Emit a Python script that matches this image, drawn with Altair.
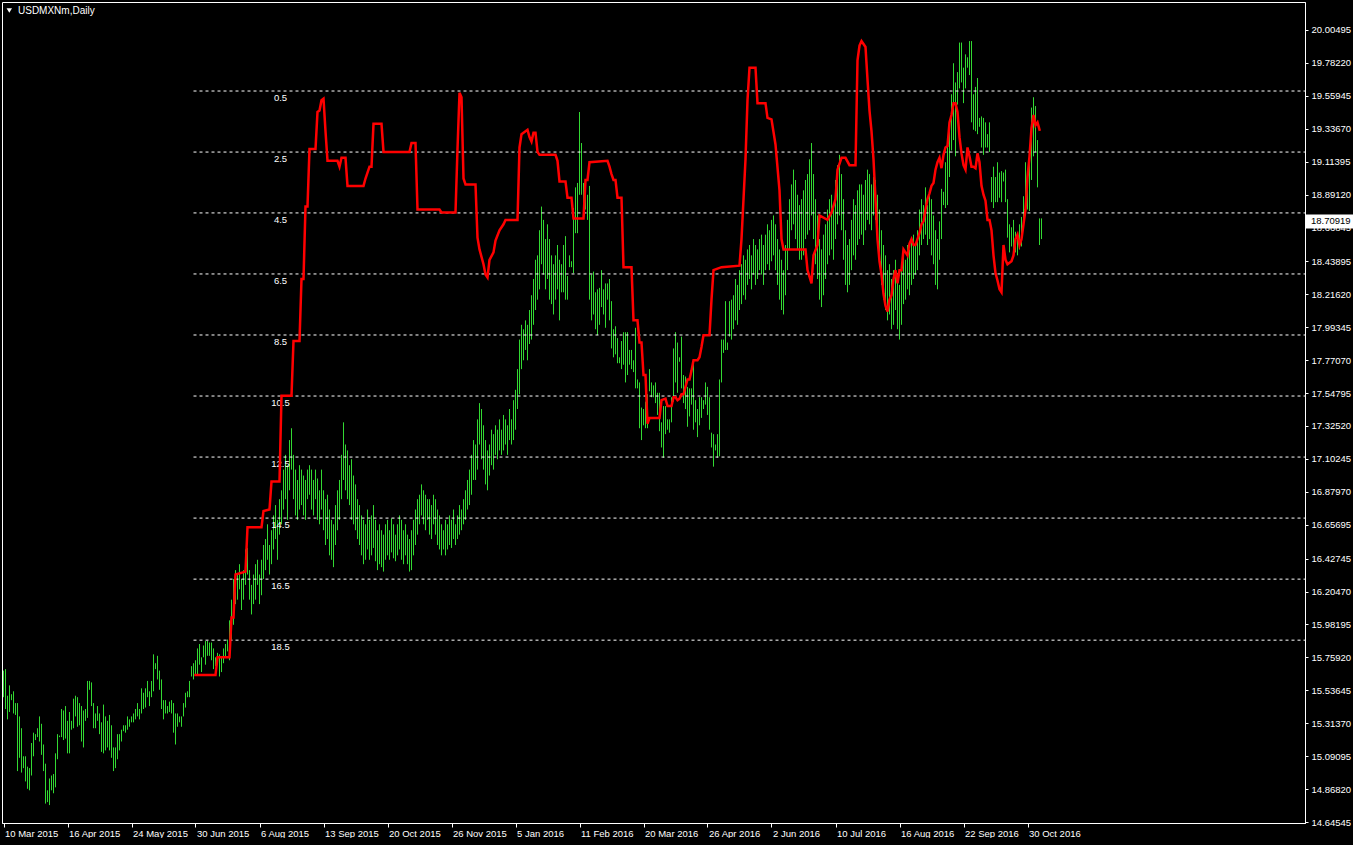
import json
import jinja2
import altair as alt
import pandas as pd

symbol_title = "USDMXNm,Daily"

# ---- daily bar highs / lows, one per bar ----
high = [
    15.67, 15.68, 15.50, 15.57, 15.51, 15.53, 15.45, 15.45, 15.36, 15.28,
    15.09, 15.09, 15.02, 15.01, 15.18, 15.25, 15.24, 15.28, 15.36, 15.31,
    15.17, 15.04, 14.86, 14.94, 14.96, 14.97, 15.11, 15.24, 15.23, 15.41,
    15.40, 15.43, 15.33, 15.39, 15.33, 15.48, 15.50, 15.49, 15.45, 15.43,
    15.40, 15.41, 15.60, 15.60, 15.59, 15.45, 15.38, 15.43, 15.38, 15.32,
    15.44, 15.36, 15.33, 15.37, 15.30, 15.15, 15.15, 15.24, 15.24, 15.27,
    15.30, 15.30, 15.36, 15.34, 15.36, 15.38, 15.41, 15.45, 15.41, 15.55,
    15.52, 15.55, 15.60, 15.53, 15.60, 15.78, 15.72, 15.77, 15.67, 15.61,
    15.47, 15.47, 15.43, 15.46, 15.47, 15.45, 15.38, 15.38, 15.36, 15.36,
    15.45, 15.52, 15.53, 15.60, 15.70, 15.72, 15.74, 15.82, 15.85, 15.76,
    15.84, 15.87, 15.87, 15.86, 15.86, 15.82, 15.76, 15.79, 15.78, 15.76,
    15.82, 15.85, 15.88, 16.01, 16.15, 16.29, 16.35, 16.32, 16.39, 16.29,
    16.35, 16.49, 16.50, 16.35, 16.25, 16.32, 16.39, 16.42, 16.32, 16.42,
    16.52, 16.56, 16.66, 16.52, 16.62, 16.72, 16.79, 16.69, 16.83, 16.89,
    17.03, 17.13, 17.06, 17.23, 17.31, 17.13, 17.03, 16.96, 17.06, 17.03,
    16.99, 16.96, 17.03, 17.06, 17.03, 16.96, 17.03, 16.97, 16.89, 17.03,
    16.89, 16.83, 16.86, 16.76, 16.69, 16.66, 16.79, 16.89, 16.96, 17.13,
    17.35, 17.20, 17.16, 17.06, 17.10, 16.99, 16.93, 16.83, 16.79, 16.72,
    16.69, 16.66, 16.76, 16.69, 16.72, 16.79, 16.69, 16.62, 16.66, 16.62,
    16.59, 16.66, 16.69, 16.62, 16.70, 16.66, 16.59, 16.66, 16.72, 16.69,
    16.62, 16.66, 16.59, 16.56, 16.62, 16.69, 16.76, 16.83, 16.86, 16.93,
    16.89, 16.86, 16.83, 16.83, 16.79, 16.86, 16.83, 16.76, 16.72, 16.66,
    16.62, 16.69, 16.66, 16.72, 16.69, 16.76, 16.66, 16.72, 16.79, 16.76,
    16.83, 16.89, 16.96, 17.03, 17.13, 17.23, 17.20, 17.37, 17.48, 17.44,
    17.33, 17.23, 17.16, 17.20, 17.30, 17.27, 17.33, 17.30, 17.37, 17.30,
    17.40, 17.37, 17.33, 17.44, 17.37, 17.50, 17.57, 17.71, 17.91, 18.01,
    17.98, 18.04, 18.01, 18.11, 18.21, 18.32, 18.45, 18.48, 18.65, 18.81,
    18.72, 18.59, 18.69, 18.59, 18.48, 18.42, 18.48, 18.55, 18.45, 18.42,
    18.55, 18.61, 18.34, 18.48, 18.44, 18.80, 18.94, 18.97, 19.45, 19.24,
    18.97, 18.90, 18.89, 18.95, 18.35, 18.37, 18.23, 18.25, 18.26, 18.38,
    18.25, 18.29, 18.29, 18.32, 18.17, 17.98, 18.00, 17.92, 17.79, 17.90,
    17.96, 17.96, 17.96, 17.84, 17.84, 17.77, 17.99, 17.64, 17.62, 17.45,
    17.44, 17.49, 17.54, 17.71, 17.62, 17.60, 17.62, 17.55, 17.55, 17.35,
    17.46, 17.46, 17.37, 17.37, 17.52, 17.85, 17.96, 17.89, 17.79, 17.93,
    17.67, 17.66, 17.59, 17.58, 17.58, 17.76, 17.50, 17.44, 17.52, 17.52,
    17.50, 17.62, 17.59, 17.52, 17.28, 17.27, 17.20, 17.27, 17.64, 17.91,
    17.91, 18.17, 17.89, 18.17, 18.18, 18.21, 18.32, 18.28, 18.38, 18.42,
    18.48, 18.45, 18.52, 18.55, 18.48, 18.59, 18.55, 18.52, 18.59, 18.62,
    18.55, 18.62, 18.69, 18.65, 18.72, 18.75, 18.69, 18.59, 18.52, 18.45,
    18.38, 18.55, 18.72, 18.86, 18.96, 19.06, 18.99, 18.89, 18.82, 18.86,
    18.92, 18.99, 19.03, 19.13, 19.24, 19.03, 18.86, 18.75, 18.59, 18.52,
    18.62, 18.69, 18.79, 18.86, 18.89, 18.82, 18.99, 19.09, 19.16, 19.03,
    18.86, 18.65, 18.55, 18.59, 18.72, 18.86, 18.82, 18.92, 18.96, 18.96,
    18.89, 18.99, 19.06, 19.03, 18.96, 19.01, 18.99, 18.89, 18.79, 18.65,
    18.55, 18.48, 18.38, 18.42, 18.32, 18.38, 18.45, 18.35, 18.28, 18.38,
    18.48, 18.45, 18.55, 18.52, 18.59, 18.62, 18.55, 18.65, 18.79, 18.86,
    18.82, 18.94, 18.82, 18.90, 18.86, 18.75, 18.65, 18.59, 18.71, 18.93,
    18.91, 19.11, 19.23, 19.40, 19.57, 19.78, 19.65, 19.72, 19.92, 19.92,
    19.75, 19.84, 19.82, 19.93, 19.93, 19.57, 19.62, 19.68, 19.41, 19.42,
    19.41, 19.38, 19.30, 19.38, 19.01, 19.08, 19.01, 19.11, 19.04, 19.05,
    19.04, 19.06, 18.86, 18.69, 18.67, 18.72, 18.64, 18.62, 18.69, 18.74,
    18.88, 19.11, 19.03, 19.15, 19.48, 19.55, 19.49, 19.26, 18.73, 18.73,
]
low = [
    15.49, 15.41, 15.34, 15.39, 15.47, 15.38, 15.37, 14.99, 15.08, 14.98,
    15.01, 14.92, 14.87, 14.86, 14.96, 15.09, 15.20, 15.22, 15.19, 15.10,
    14.99, 14.77, 14.78, 14.76, 14.86, 14.84, 14.88, 15.07, 15.22, 15.22,
    15.20, 15.21, 15.11, 15.11, 15.27, 15.28, 15.36, 15.29, 15.30, 15.19,
    15.15, 15.33, 15.35, 15.54, 15.43, 15.28, 15.28, 15.33, 15.24, 15.12,
    15.11, 15.13, 15.15, 15.13, 15.08, 14.99, 15.01, 15.07, 15.13, 15.19,
    15.26, 15.25, 15.27, 15.29, 15.32, 15.32, 15.34, 15.36, 15.34, 15.38,
    15.41, 15.42, 15.49, 15.43, 15.49, 15.53, 15.68, 15.61, 15.54, 15.41,
    15.34, 15.38, 15.38, 15.39, 15.38, 15.25, 15.17, 15.29, 15.32, 15.29,
    15.36, 15.42, 15.49, 15.49, 15.63, 15.61, 15.64, 15.64, 15.71, 15.66,
    15.76, 15.71, 15.77, 15.77, 15.74, 15.68, 15.70, 15.74, 15.63, 15.66,
    15.72, 15.76, 15.80, 15.74, 15.88, 15.98, 16.12, 16.15, 16.22, 16.08,
    16.15, 16.25, 16.32, 16.15, 16.05, 16.12, 16.15, 16.25, 16.12, 16.18,
    16.29, 16.35, 16.42, 16.32, 16.39, 16.49, 16.56, 16.42, 16.59, 16.66,
    16.76, 16.83, 16.69, 16.89, 17.03, 16.83, 16.72, 16.69, 16.76, 16.79,
    16.72, 16.69, 16.83, 16.86, 16.76, 16.72, 16.83, 16.69, 16.66, 16.76,
    16.62, 16.52, 16.56, 16.45, 16.42, 16.37, 16.52, 16.62, 16.69, 16.83,
    16.96, 16.89, 16.83, 16.79, 16.69, 16.66, 16.62, 16.56, 16.52, 16.45,
    16.39, 16.42, 16.49, 16.42, 16.45, 16.50, 16.41, 16.35, 16.39, 16.37,
    16.34, 16.42, 16.45, 16.42, 16.47, 16.43, 16.41, 16.45, 16.49, 16.42,
    16.39, 16.45, 16.39, 16.34, 16.35, 16.45, 16.52, 16.59, 16.66, 16.72,
    16.66, 16.62, 16.69, 16.59, 16.56, 16.66, 16.59, 16.52, 16.49, 16.45,
    16.49, 16.45, 16.49, 16.52, 16.50, 16.56, 16.52, 16.56, 16.59, 16.62,
    16.66, 16.69, 16.76, 16.79, 16.86, 16.96, 16.96, 17.03, 17.20, 17.10,
    17.03, 16.93, 16.89, 16.99, 17.06, 17.03, 17.13, 17.10, 17.16, 17.13,
    17.16, 17.20, 17.13, 17.23, 17.20, 17.23, 17.30, 17.44, 17.54, 17.71,
    17.77, 17.84, 17.77, 17.88, 17.91, 18.01, 18.11, 18.18, 18.25, 18.42,
    18.35, 18.25, 18.32, 18.18, 18.15, 18.08, 18.18, 18.25, 18.04, 18.23,
    18.23, 18.18, 18.18, 18.40, 18.40, 18.36, 18.63, 18.63, 18.89, 18.89,
    18.77, 18.79, 18.72, 18.18, 18.04, 18.08, 17.98, 17.94, 18.01, 18.13,
    18.08, 17.99, 18.18, 18.04, 17.85, 17.79, 17.81, 17.75, 17.75, 17.71,
    17.74, 17.62, 17.67, 17.74, 17.71, 17.69, 17.58, 17.58, 17.31, 17.23,
    17.33, 17.31, 17.31, 17.56, 17.52, 17.52, 17.48, 17.40, 17.29, 17.18,
    17.11, 17.27, 17.30, 17.28, 17.35, 17.49, 17.62, 17.55, 17.76, 17.58,
    17.48, 17.44, 17.32, 17.39, 17.47, 17.30, 17.35, 17.25, 17.33, 17.38,
    17.44, 17.47, 17.40, 17.30, 17.18, 17.05, 17.16, 17.11, 17.12, 17.62,
    17.82, 17.84, 17.84, 17.93, 17.91, 17.98, 18.04, 18.01, 18.11, 18.15,
    18.21, 18.18, 18.28, 18.32, 18.25, 18.35, 18.28, 18.32, 18.38, 18.35,
    18.28, 18.38, 18.42, 18.38, 18.44, 18.48, 18.38, 18.28, 18.18, 18.11,
    18.08, 18.21, 18.38, 18.52, 18.65, 18.69, 18.59, 18.52, 18.45, 18.45,
    18.48, 18.59, 18.62, 18.65, 18.75, 18.59, 18.42, 18.32, 18.18, 18.13,
    18.21, 18.32, 18.42, 18.48, 18.52, 18.45, 18.59, 18.69, 18.75, 18.65,
    18.45, 18.28, 18.23, 18.28, 18.38, 18.48, 18.45, 18.55, 18.59, 18.62,
    18.55, 18.65, 18.72, 18.69, 18.65, 18.75, 18.72, 18.55, 18.42, 18.28,
    18.18, 18.11, 18.04, 18.08, 17.98, 18.01, 18.11, 17.98, 17.91, 18.01,
    18.15, 18.18, 18.25, 18.21, 18.28, 18.32, 18.35, 18.38, 18.48, 18.55,
    18.59, 18.62, 18.55, 18.59, 18.48, 18.42, 18.28, 18.25, 18.45, 18.59,
    18.82, 18.80, 18.82, 19.01, 19.19, 19.26, 19.15, 19.50, 19.61, 19.65,
    19.51, 19.61, 19.75, 19.70, 19.38, 19.33, 19.32, 19.30, 19.35, 19.21,
    19.16, 19.21, 19.21, 19.18, 18.84, 18.80, 18.84, 18.84, 18.87, 18.84,
    18.98, 18.84, 18.60, 18.50, 18.54, 18.47, 18.50, 18.48, 18.52, 18.54,
    18.70, 18.77, 18.79, 18.78, 18.99, 19.15, 19.18, 18.94, 18.55, 18.59,
]

# ---- red indicator line: (bar index, price) vertices ----
red_points = [
    (96, 15.64), (106, 15.64), (107, 15.76), (113, 15.76), (114, 16.03), (115, 16.03),
    (116, 16.32), (121, 16.34), (122, 16.64), (129, 16.64), (130, 16.75), (133, 16.76),
    (134, 16.95), (138, 16.95), (139, 17.53), (144, 17.53), (145, 17.90), (148, 17.90),
    (149, 18.32), (150, 18.32), (151, 18.81), (152, 18.81), (153, 19.20), (156, 19.20),
    (157, 19.45), (158, 19.46), (159, 19.53), (160, 19.54), (161, 19.32), (162, 19.12),
    (167, 19.12), (168, 19.08), (169, 19.14), (171, 19.14), (172, 18.95), (180, 18.95),
    (181, 19.00), (182, 19.04), (183, 19.08), (184, 19.08), (185, 19.37), (189, 19.37),
    (190, 19.18), (203, 19.18), (204, 19.24), (206, 19.24), (207, 18.79), (218, 18.79),
    (219, 18.77), (226, 18.77), (227, 19.20), (228, 19.58), (229, 19.55), (230, 19.00),
    (231, 18.96), (236, 18.96), (237, 18.60), (238, 18.52), (240, 18.42), (241, 18.35),
    (242, 18.33), (243, 18.45), (245, 18.50), (246, 18.58), (248, 18.65), (250, 18.69),
    (251, 18.72), (257, 18.72), (258, 19.21), (259, 19.30), (260, 19.31), (262, 19.33),
    (263, 19.28), (264, 19.25), (265, 19.31), (266, 19.31), (267, 19.18), (268, 19.16),
    (276, 19.16), (277, 19.12), (278, 18.98), (281, 18.98), (282, 18.87), (284, 18.87),
    (285, 18.73), (290, 18.73), (291, 18.99), (292, 18.99), (293, 19.11), (302, 19.12),
    (303, 19.08), (304, 19.03), (305, 18.99), (306, 18.99), (307, 18.87), (309, 18.87),
    (310, 18.40), (314, 18.40), (315, 18.04), (317, 18.04), (318, 17.89), (319, 17.89),
    (320, 17.67), (321, 17.67), (322, 17.34), (323, 17.38), (328, 17.38), (329, 17.50),
    (331, 17.51), (332, 17.46), (334, 17.46), (335, 17.52), (336, 17.52), (337, 17.50),
    (338, 17.51), (339, 17.54), (340, 17.54), (341, 17.59), (342, 17.64), (343, 17.64),
    (344, 17.70), (345, 17.77), (347, 17.77), (348, 17.79), (349, 17.86), (350, 17.94),
    (353, 17.94), (354, 18.18), (355, 18.38), (359, 18.40), (368, 18.41), (369, 18.59),
    (370, 18.86), (371, 19.13), (372, 19.53), (373, 19.75), (376, 19.75), (377, 19.51),
    (381, 19.51), (382, 19.41), (384, 19.40), (386, 19.23), (388, 18.92), (389, 18.59),
    (390, 18.52), (401, 18.52), (402, 18.38), (404, 18.29), (405, 18.48), (407, 18.55),
    (408, 18.75), (412, 18.72), (414, 18.77), (416, 18.86), (417, 19.06), (419, 19.14),
    (421, 19.14), (423, 19.09), (426, 19.09), (427, 19.80), (428, 19.90), (429, 19.93),
    (430, 19.91), (431, 19.89), (432, 19.67), (433, 19.46), (434, 19.32), (435, 19.13),
    (436, 18.86), (437, 18.59), (438, 18.44), (439, 18.35), (440, 18.22), (441, 18.14),
    (442, 18.10), (443, 18.18), (444, 18.21), (445, 18.32), (446, 18.38), (447, 18.29),
    (448, 18.38), (449, 18.38), (450, 18.52), (451, 18.50), (452, 18.48), (453, 18.56),
    (454, 18.59), (455, 18.55), (456, 18.55), (457, 18.59), (458, 18.63), (459, 18.69),
    (460, 18.71), (461, 18.79), (462, 18.86), (463, 18.90), (464, 18.95), (465, 18.97),
    (466, 19.06), (467, 19.11), (468, 19.14), (469, 19.07), (470, 19.16), (471, 19.21),
    (472, 19.22), (473, 19.38), (474, 19.43), (475, 19.51), (476, 19.51), (477, 19.45),
    (478, 19.28), (479, 19.17), (480, 19.09), (481, 19.06), (482, 19.21), (483, 19.15),
    (484, 19.08), (485, 19.08), (486, 19.07), (487, 19.17), (488, 19.11), (489, 18.95),
    (490, 18.89), (491, 18.85), (492, 18.72), (493, 18.72), (494, 18.65), (495, 18.48),
    (496, 18.36), (497, 18.31), (498, 18.25), (499, 18.23), (500, 18.55), (501, 18.45),
    (502, 18.42), (503, 18.43), (504, 18.44), (505, 18.48), (506, 18.59), (507, 18.62),
    (508, 18.55), (509, 18.59), (510, 18.69), (511, 18.79), (512, 19.01), (513, 19.15),
    (514, 19.34), (515, 19.43), (516, 19.36), (517, 19.38), (518, 19.33),
]

# ---- dashed horizontal levels ----
level_price = [19.592, 19.179, 18.767, 18.354, 17.941, 17.528, 17.115, 16.702, 16.289, 15.876]
level_text = ["0.5", "2.5", "4.5", "6.5", "8.5", "10.5", "12.5", "14.5", "16.5", "18.5"]
level_start_bar = 95
level_label_bar = 138.5

# ---- axes ----
price_ticks = [20.00495, 19.78220, 19.55945, 19.33670, 19.11395, 18.89120, 18.66845,
               18.43895, 18.21620, 17.99345, 17.77070, 17.54795, 17.32520, 17.10245,
               16.87970, 16.65695, 16.42745, 16.20470, 15.98195, 15.75920, 15.53645,
               15.31370, 15.09095, 14.86820, 14.64545]
date_bar = [0, 32, 64, 96, 128, 160, 192, 224, 256, 288, 320, 352, 384, 416, 448, 480, 512]
date_text = ["10 Mar 2015", "16 Apr 2015", "24 May 2015", "30 Jun 2015", "6 Aug 2015",
             "13 Sep 2015", "20 Oct 2015", "26 Nov 2015", "5 Jan 2016", "11 Feb 2016",
             "20 Mar 2016", "26 Apr 2016", "2 Jun 2016", "10 Jul 2016", "16 Aug 2016",
             "22 Sep 2016", "30 Oct 2016"]
last_price = 18.70919
last_text = "18.70919"

# ---- styling ----
W, H = 1303, 821
FONT = "Liberation Sans"
FS = 9.5
GREEN = "#32D932"
RED = "#FF0000"
WHITE = "#FFFFFF"

X_SCALE = alt.Scale(domain=[-0.75, 650.75], nice=False, zero=False)
Y_SCALE = alt.Scale(domain=[14.6387, 20.1944], nice=False, zero=False)

x_axis = alt.Axis(
    values=date_bar,
    labelExpr=f"{json.dumps(date_text)}[round(datum.value / 32)]",
    orient="bottom", title=None, grid=False,
    labelAlign="left", labelBaseline="top", labelPadding=1, labelOffset=1,
    tickSize=4, labelFlush=False, labelOverlap=False,
)
y_axis = alt.Axis(
    values=price_ticks, format=".5f", orient="right", title=None, grid=False,
    tickSize=3, labelPadding=3, labelFlush=False, labelOverlap=False,
)


def X(field):
    return alt.X(f"{field}:Q", scale=X_SCALE, axis=x_axis, title=None)


def Y(field):
    return alt.Y(f"{field}:Q", scale=Y_SCALE, axis=y_axis, title=None)


bars_df = pd.DataFrame({"bar": list(range(len(high))), "high": high, "low": low})
red_df = pd.DataFrame({"bar": [p[0] for p in red_points], "price": [p[1] for p in red_points]})
lev_df = pd.DataFrame({
    "price": level_price, "label": level_text,
    "start": [level_start_bar] * len(level_price),
    "at": [level_label_bar] * len(level_price),
})
last_df = pd.DataFrame({"price": [last_price], "label": [last_text]})
title_df = pd.DataFrame({"t": [symbol_title]})

bars = alt.Chart(bars_df).mark_rule(color=GREEN, strokeWidth=1).encode(
    x=X("bar"), y=Y("high"), y2="low"
)

levels = alt.Chart(lev_df).mark_rule(color=WHITE, strokeWidth=1, strokeDash=[3, 3]).encode(
    x=X("start"), x2=alt.value(W), y=Y("price")
)

level_labels = alt.Chart(lev_df).mark_text(
    color=WHITE, font=FONT, fontSize=FS, align="center", baseline="middle", dy=7
).encode(x=X("at"), y=Y("price"), text="label:N")

red_line = alt.Chart(red_df).mark_line(
    color=RED, strokeWidth=2.5, strokeJoin="miter", strokeCap="square"
).encode(x=X("bar"), y=Y("price"))

price_box = alt.Chart(last_df).mark_rule(color=WHITE, strokeWidth=14).encode(
    x=alt.value(W + 1), x2=alt.value(W + 50), y=Y("price")
)
price_txt = alt.Chart(last_df).mark_text(
    color="#000000", font=FONT, fontSize=FS, align="left", baseline="middle"
).encode(x=alt.value(W + 6), y=Y("price"), text="label:N")

title_tri = alt.Chart(title_df).mark_point(
    shape="triangle-down", filled=True, color=WHITE, size=30, opacity=1
).encode(x=alt.value(7.3), y=alt.value(8.5))
title_txt = alt.Chart(title_df).mark_text(
    color=WHITE, font=FONT, fontSize=10, align="left", baseline="middle"
).encode(x=alt.value(16), y=alt.value(9), text="t:N")

chart = alt.layer(
    bars, levels, level_labels, red_line, price_box, price_txt, title_tri, title_txt
).properties(
    width=W, height=H,
    padding={"left": 2, "top": 2, "right": 0, "bottom": 0},
    background="#000000",
).configure_view(
    stroke=WHITE, strokeWidth=1, fill="#000000"
).configure_axis(
    labelFont=FONT, labelFontSize=FS, labelColor=WHITE,
    domainColor=WHITE, tickColor=WHITE, domainWidth=1, tickWidth=1,
)

PAGE = jinja2.Template("""<!DOCTYPE html>
<html>
<head>
<meta charset="utf-8">
<style>
html, body { margin: 0; padding: 0; background: #000000; overflow: hidden; }
</style>
<script type="text/javascript" src="{{ base_url }}/vega@{{ vega_version }}"></script>
<script type="text/javascript" src="{{ base_url }}/vega-lite@{{ vegalite_version }}"></script>
<script type="text/javascript" src="{{ base_url }}/vega-embed@{{ vegaembed_version }}"></script>
</head>
<body>
<div id="{{ output_div }}"></div>
<script type="text/javascript">
(function(vegaEmbed) {
  var spec = {{ spec }};
  var embedOpt = {{ embed_options }};
  function showError(el, error){
    el.innerHTML = ('<div style="color:red;"><p>JavaScript Error: ' + error.message + '</p></div>');
    throw error;
  }
  const el = document.getElementById('{{ output_div }}');
  vegaEmbed("#{{ output_div }}", spec, embedOpt).catch(error => showError(el, error));
})(vegaEmbed);
</script>
</body>
</html>
""")

try:
    chart.save("out.html", embed_options={"renderer": "svg", "actions": False}, template=PAGE)
except Exception:
    chart.save("out.html", embed_options={"renderer": "svg", "actions": False})
